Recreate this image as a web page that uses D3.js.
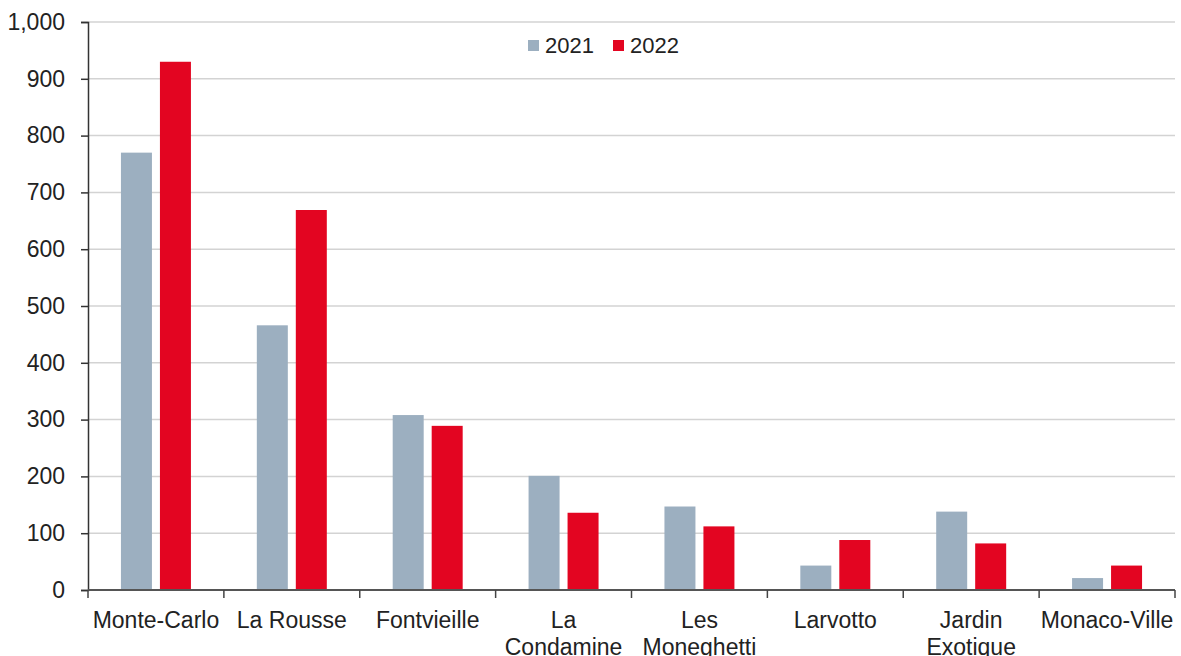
<!DOCTYPE html>
<html>
<head>
<meta charset="utf-8">
<script src="https://cdn.jsdelivr.net/npm/d3@7"></script>
<style>
  body { margin: 0; background: #fff; }
  svg text { font-family: "Liberation Sans", Arial, sans-serif; fill: #222; }
</style>
</head>
<body>
<div id="chart"></div>
<script>
  "use strict";

  var districts = ["Monte-Carlo", "La Rousse", "Fontvieille", "La\nCondamine",
    "Les\nMoneghetti", "Larvotto", "Jardin\nExotique", "Monaco-Ville"];
  var years = ["2021", "2022"];
  var values2021 = [770, 466, 308, 201, 147, 43, 138, 21];
  var values2022 = [930, 669, 289, 136, 112, 88, 82, 43];
  var yTicks = [0, 100, 200, 300, 400, 500, 600, 700, 800, 900, 1000];
  var colors = { "2021": "#9cafc0", "2022": "#e30521" };

  (function() {
    var width = 1181, height = 656;
    var left = 88, right = 1175, plotTop = 22, bottom = 590;

    var svg = d3.select("#chart").append("svg")
      .attr("width", width)
      .attr("height", height);

    var x0 = d3.scaleBand().domain(districts).range([left, right]);
    var x1 = d3.scaleBand().domain(years).range([0, x0.bandwidth()])
      .paddingInner(0.205).paddingOuter(0.845);
    var y = d3.scaleLinear().domain([0, 1000]).range([bottom, plotTop]);

    // grid
    svg.append("g").selectAll("line")
      .data(yTicks.filter(d => d > 0))
      .join("line")
      .attr("x1", left).attr("x2", right)
      .attr("y1", d => y(d)).attr("y2", d => y(d))
      .attr("stroke", "#d3d3d3").attr("stroke-width", 1.5);

    // bars
    var rows = districts.map((d, i) => ({ name: d, vals: [
      { year: "2021", v: values2021[i] }, { year: "2022", v: values2022[i] }] }));

    var groups = svg.append("g").selectAll("g")
      .data(rows).join("g")
      .attr("transform", d => `translate(${x0(d.name)},0)`);

    groups.selectAll("rect")
      .data(d => d.vals)
      .join("rect")
      .attr("x", d => x1(d.year))
      .attr("width", x1.bandwidth())
      .attr("y", d => y(d.v))
      .attr("height", d => y(0) - y(d.v))
      .attr("fill", d => colors[d.year]);

    // y axis
    var yAxis = svg.append("g")
      .attr("transform", `translate(${left},0)`)
      .call(d3.axisLeft(y).tickValues(yTicks).tickFormat(d3.format(",")).tickSize(7).tickPadding(16));
    yAxis.select(".domain").attr("stroke", "#333").attr("stroke-width", 1.5);
    yAxis.selectAll(".tick line").attr("stroke", "#333").attr("stroke-width", 1.5);
    yAxis.selectAll("text").attr("font-size", 23).attr("fill", "#222")
      .attr("font-family", "Liberation Sans, Arial, sans-serif");

    // x axis line and boundary ticks
    svg.append("line")
      .attr("x1", left).attr("x2", right)
      .attr("y1", bottom).attr("y2", bottom)
      .attr("stroke", "#555").attr("stroke-width", 2);

    var bounds = districts.map(d => x0(d)).concat([right]);
    svg.append("g").selectAll("line")
      .data(bounds).join("line")
      .attr("x1", d => d).attr("x2", d => d)
      .attr("y1", bottom).attr("y2", bottom + 8)
      .attr("stroke", "#444").attr("stroke-width", 1.5);

    // category labels
    var labels = svg.append("g").selectAll("text")
      .data(districts).join("text")
      .attr("text-anchor", "middle")
      .attr("font-size", 23)
      .attr("transform", d => `translate(${x0(d) + x0.bandwidth() / 2},${bottom + 38})`);
    labels.selectAll("tspan")
      .data(d => d.split("\n"))
      .join("tspan")
      .attr("x", 0)
      .attr("dy", (d, i) => i === 0 ? 0 : 27)
      .text(d => d);

    // legend
    var legend = svg.append("g").attr("transform", "translate(528,36)");
    var items = [{ year: "2021", x: 0 }, { year: "2022", x: 85 }];
    legend.selectAll("rect")
      .data(items).join("rect")
      .attr("x", d => d.x).attr("y", 4)
      .attr("width", 11).attr("height", 11)
      .attr("fill", d => colors[d.year]);
    legend.selectAll("text")
      .data(items).join("text")
      .attr("x", d => d.x + 17).attr("y", 17)
      .attr("font-size", 22)
      .text(d => d.year);
  })();
</script>
</body>
</html>
